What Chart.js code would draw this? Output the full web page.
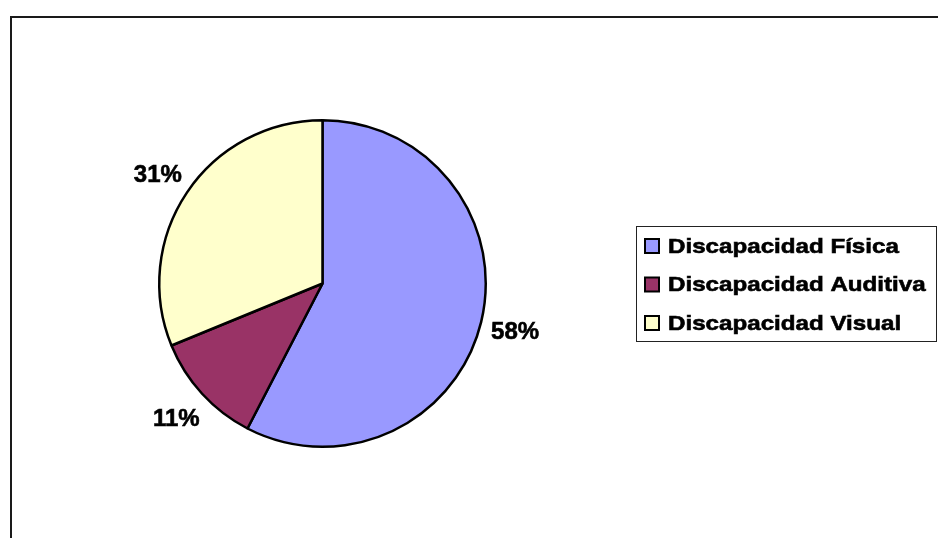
<!DOCTYPE html>
<html>
<head>
<meta charset="utf-8">
<script src="https://cdn.jsdelivr.net/npm/chart.js@4.4.1/dist/chart.umd.min.js"></script>
<style>
  html, body { margin: 0; padding: 0; background: #fff; overflow: hidden; }
  #wrap { position: relative; width: 938px; height: 538px; }
  #frame { position: absolute; left: 10px; top: 16px; width: 940px; height: 540px;
           border-left: 2px solid #1a1a1a; border-top: 2px solid #1a1a1a; }
  canvas { position: absolute; left: 0; top: 0; }
</style>
</head>
<body>
<div id="wrap">
  <div id="frame"></div>
  <canvas id="pieChart" width="938" height="538"></canvas>
</div>
<script>
// datos
const categorias = ["Discapacidad Física", "Discapacidad Auditiva", "Discapacidad Visual"];
const valores = [57.6, 11.2, 31.2];
const colores = ["#9999FF", "#993366", "#FFFFCC"];

const ctx = document.getElementById("pieChart").getContext("2d");
const FONT = "bold 24px 'Liberation Sans', Arial, sans-serif";

// texto con un trazo fino para que se vea más grueso
function textoGrueso(c, txt, x, y) {
  c.fillText(txt, x, y);
  c.lineWidth = 0.6;
  c.strokeStyle = "#000";
  c.strokeText(txt, x, y);
}

// ================= etiquetas de porcentaje =================
const etiquetasPlugin = {
  id: "etiquetas",
  afterDatasetsDraw(chart) {
    const c = chart.ctx;
    const meta = chart.getDatasetMeta(0);
    const total = valores.reduce((a, b) => a + b, 0);
    c.save();
    c.font = FONT;
    c.fillStyle = "#000";
    c.textAlign = "center";
    c.textBaseline = "middle";
    meta.data.forEach((arc, i) => {
      const { x, y, startAngle, endAngle, outerRadius } = arc.getProps(["x", "y", "startAngle", "endAngle", "outerRadius"], true);
      const mid = (startAngle + endAngle) / 2;
      const r = outerRadius + 35;
      const pct = Math.round(valores[i] / total * 100) + "%";
      textoGrueso(c, pct, x + Math.cos(mid) * r, y + Math.sin(mid) * r + 2);
    });
    c.restore();
  }
};

// ================= leyenda =================
const leyendaPlugin = {
  id: "leyenda",
  afterDraw(chart) {
    const c = chart.ctx;
    const box = { x: 636.5, y: 226.5, w: 300, h: 115 };
    c.save();
    c.fillStyle = "#fff";
    c.fillRect(box.x, box.y, box.w, box.h);
    c.strokeStyle = "#222";
    c.lineWidth = 1;
    c.strokeRect(box.x, box.y, box.w, box.h);
    c.textBaseline = "middle";
    c.textAlign = "left";
    categorias.forEach((cat, i) => {
      const cy = 246 + i * 38.5;
      c.fillStyle = colores[i];
      c.fillRect(645, cy - 7, 14, 14);
      c.strokeStyle = "#000";
      c.lineWidth = 2;
      c.strokeRect(645, cy - 7, 14, 14);
      // texto un poco ensanchado como en el original
      c.save();
      c.translate(668, cy + 1);
      c.scale(1.15, 1);
      c.font = "bold 21px 'Liberation Sans', Arial, sans-serif";
      c.fillStyle = "#000";
      textoGrueso(c, cat, 0, 0);
      c.restore();
    });
    c.restore();
  }
};

const chart = new Chart(ctx, {
  type: "pie",
  data: {
    labels: categorias,
    datasets: [{
      data: valores,
      backgroundColor: colores,
      borderColor: "#000",
      borderWidth: 2.5,
      hoverBorderWidth: 2.5,
      hoverOffset: 0
    }]
  },
  options: {
    responsive: false,
    animation: false,
    layout: { padding: { left: 158, top: 119, right: 451, bottom: 90 } },
    plugins: {
      legend: { display: false },
      tooltip: { enabled: false }
    }
  },
  plugins: [etiquetasPlugin, leyendaPlugin]
});
</script>
</body>
</html>
